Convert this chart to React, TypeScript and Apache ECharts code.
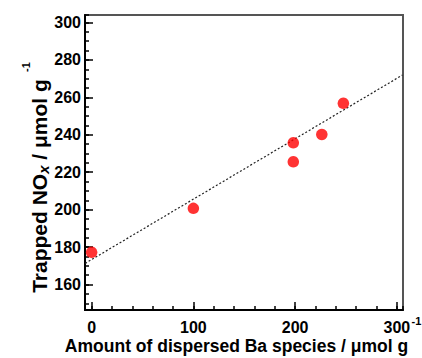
import React, { useEffect, useRef } from 'react';
import * as echarts from 'echarts';

// Data
const bariumAmounts = [0, 100, 198.2, 198.2, 226.2, 247.4];
const trappedNOx = [177.2, 200.7, 235.7, 225.6, 240.2, 256.8];
const fitLineX = [-6.3, 305.4];
const fitLineY = [171.3, 271.9];
const xTickLabels = ['0', '100', '200', '300'];
const yTickLabels = ['160', '180', '200', '220', '240', '260', '280', '300'];

const FONT = '"Liberation Sans", Arial, Helvetica, sans-serif';

export default function App() {
  const ref = useRef<HTMLDivElement>(null);

  useEffect(() => {
    document.body.style.margin = '0';
    if (!ref.current) return;
    const chart = echarts.init(ref.current, undefined, { renderer: 'svg' });

    const xMin = -6.5, xMax = 306;
    const yMin = 146.4, yMax = 304;

    const labelStyle = {
      fontSize: 16,
      fontWeight: 'bold' as const,
      color: '#000',
      fontFamily: FONT,
    };

    const option: any = {
      animation: false,
      backgroundColor: '#fff',
      grid: {
        show: true,
        left: 85,
        right: 19,
        top: 15,
        bottom: 48,
        borderColor: '#555',
        borderWidth: 2,
        containLabel: false,
        outerBoundsMode: 'none',
      },
      xAxis: [
        {
          type: 'value',
          min: xMin,
          max: xMax,
          splitNumber: 3,
          position: 'bottom',
          axisLine: { show: true, onZero: false, lineStyle: { color: '#000', width: 2 } },
          axisTick: { show: true, inside: true, length: 8, lineStyle: { color: '#000', width: 1.5 } },
          axisLabel: {
            ...labelStyle,
            margin: 9,
            showMinLabel: false,
            showMaxLabel: false,
            formatter: (v: number) => {
              const s = String(Math.round(v));
              return Math.abs(v - Math.round(v)) < 1e-6 && xTickLabels.includes(s) ? s : '';
            },
          },
          splitLine: { show: false },
        },
        {
          type: 'value',
          min: xMin,
          max: xMax,
          splitNumber: 16,
          position: 'bottom',
          axisLine: { show: false, onZero: false },
          axisTick: { show: true, inside: true, length: 4, lineStyle: { color: '#000', width: 1.5 } },
          axisLabel: { show: false },
          splitLine: { show: false },
        },
      ],
      yAxis: [
        {
          type: 'value',
          min: yMin,
          max: yMax,
          splitNumber: 8,
          position: 'left',
          axisLine: { show: true, onZero: false, lineStyle: { color: '#000', width: 2 } },
          axisTick: { show: true, inside: true, length: 8, lineStyle: { color: '#000', width: 1.5 } },
          axisLabel: {
            ...labelStyle,
            margin: 4,
            showMinLabel: false,
            showMaxLabel: false,
            formatter: (v: number) => {
              const s = String(Math.round(v));
              return Math.abs(v - Math.round(v)) < 1e-6 && yTickLabels.includes(s) ? s : '';
            },
          },
          splitLine: { show: false },
        },
        {
          type: 'value',
          min: yMin,
          max: yMax,
          splitNumber: 30,
          position: 'left',
          axisLine: { show: false, onZero: false },
          axisTick: { show: true, inside: true, length: 4, lineStyle: { color: '#000', width: 1.5 } },
          axisLabel: { show: false },
          splitLine: { show: false },
        },
      ],
      series: [
        {
          type: 'line',
          xAxisIndex: 0,
          yAxisIndex: 0,
          data: fitLineX.map((x, i) => [x, fitLineY[i]]),
          showSymbol: false,
          symbol: 'none',
          lineStyle: { color: '#222', width: 1.2, type: [2, 2] },
          z: 2,
          silent: true,
        },
        {
          type: 'scatter',
          xAxisIndex: 0,
          yAxisIndex: 0,
          data: bariumAmounts.map((x, i) => [x, trappedNOx[i]]),
          symbol: 'circle',
          symbolSize: 11.5,
          itemStyle: { color: '#ff0000' },
          z: 3,
        },
      ],
      graphic: [
        {
          type: 'text',
          x: 236.5,
          y: 346,
          style: {
            text: 'Amount of dispersed Ba species / μmol g',
            fontSize: 17.5,
            fontWeight: 'bold',
            fontFamily: FONT,
            fill: '#000',
            align: 'center',
            verticalAlign: 'middle',
            textAlign: 'center',
            textVerticalAlign: 'middle',
          },
        },
        {
          type: 'text',
          x: 416.5,
          y: 321,
          style: {
            text: '-1',
            fontSize: 11,
            fontWeight: 'bold',
            fontFamily: FONT,
            fill: '#000',
            align: 'center',
            verticalAlign: 'middle',
            textAlign: 'center',
            textVerticalAlign: 'middle',
          },
        },
        {
          type: 'text',
          x: 39,
          y: 186,
          rotation: Math.PI / 2,
          style: {
            text: '{b|Trapped NO}{s|x}{b| / μmol g}',
            rich: {
              b: { fontSize: 21, fontWeight: 'bold', fontFamily: FONT, fill: '#000', lineHeight: 24 },
              s: {
                fontSize: 15,
                fontWeight: 'bold',
                fontStyle: 'italic',
                fontFamily: FONT,
                fill: '#000',
                lineHeight: 15,
                verticalAlign: 'bottom',
              },
            },
            align: 'center',
            verticalAlign: 'middle',
            textAlign: 'center',
            textVerticalAlign: 'middle',
          },
        },
        {
          type: 'text',
          x: 25.5,
          y: 67,
          rotation: Math.PI / 2,
          style: {
            text: '-1',
            fontSize: 11,
            fontWeight: 'bold',
            fontFamily: FONT,
            fill: '#000',
            align: 'center',
            verticalAlign: 'middle',
            textAlign: 'center',
            textVerticalAlign: 'middle',
          },
        },
      ],
    };

    chart.setOption(option);
    return () => chart.dispose();
  }, []);

  return <div ref={ref} style={{ width: 422, height: 358 }} />;
}
